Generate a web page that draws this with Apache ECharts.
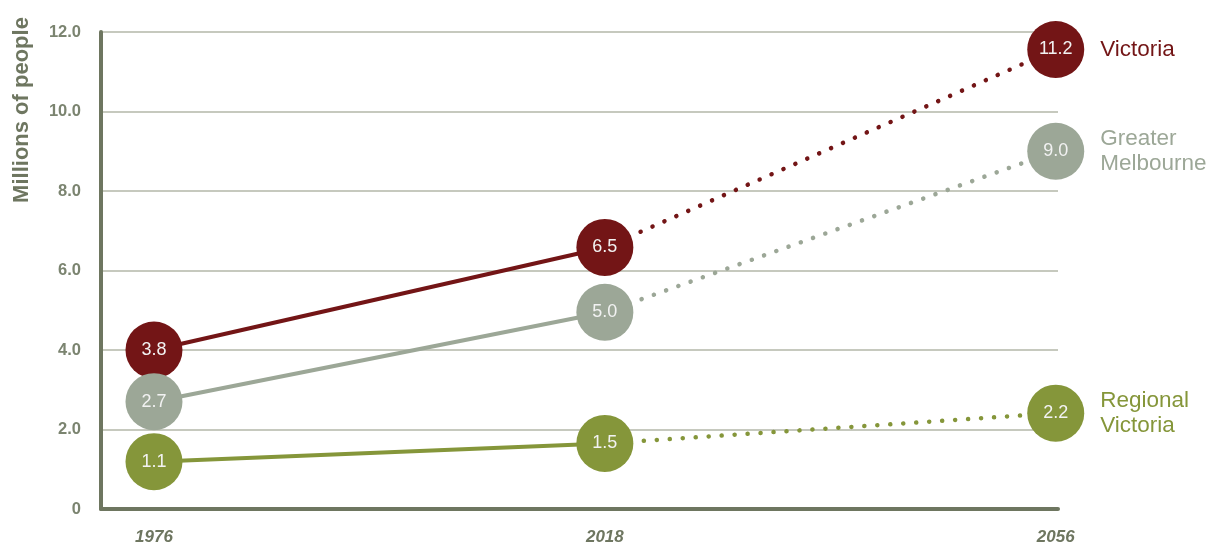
<!DOCTYPE html>
<html><head><meta charset="utf-8">
<script src="https://cdn.jsdelivr.net/npm/echarts@6/dist/echarts.min.js"></script>
<style>html,body{margin:0;padding:0;background:#fff}#c{width:1221px;height:547px}</style>
</head><body><div id="c"></div>
<script>
const years = ['1976', '2018', '2056'];
const yTicks = [0, 2, 4, 6, 8, 10, 12];
const seriesNames = ['Victoria', 'Greater\nMelbourne', 'Regional\nVictoria'];
// circle positions
const victoria = [4.0, 6.58, 11.56];
const melbourne = [2.7, 4.95, 9.0];
const regional = [1.19, 1.65, 2.41];
// printed labels on circles
const victoriaLabels = ['3.8', '6.5', '11.2'];
const melbourneLabels = ['2.7', '5.0', '9.0'];
const regionalLabels = ['1.1', '1.5', '2.2'];
const colors = ['#731516', '#9ca797', '#85963a'];

const font = 'Liberation Sans, Arial, sans-serif';
const groups = [
  {vals: victoria, labels: victoriaLabels},
  {vals: melbourne, labels: melbourneLabels},
  {vals: regional, labels: regionalLabels}
];
const series = [];
groups.forEach((g, i) => {
  const c = colors[i];
  series.push({
    type: 'line', data: [[0, g.vals[0]], [1, g.vals[1]]], symbol: 'none', z: 2,
    lineStyle: {color: c, width: 4}, silent: true
  });
  series.push({
    type: 'line', data: [[1, g.vals[1]], [2, g.vals[2]]], symbol: 'none', z: 2,
    lineStyle: {color: c, width: 4.5, type: [0.1, 12.9], cap: 'round'}, silent: true
  });
  series.push({
    type: 'scatter', z: 5, symbolSize: 57,
    data: g.vals.map((v, k) => ({value: [k, v], label: {formatter: g.labels[k]}})),
    itemStyle: {color: c, opacity: 1},
    label: {show: true, position: 'inside', color: '#f2f2f2', fontSize: 18, fontFamily: font}
  });
  series.push({
    type: 'scatter', z: 4, symbolSize: 57,
    data: [[2, g.vals[2]]],
    itemStyle: {color: c, opacity: 0},
    labelLayout: {hideOverlap: false},
    label: {show: true, position: 'right', distance: 16, formatter: seriesNames[i],
      color: c, opacity: 1, fontSize: 22.5, lineHeight: 25, fontFamily: font, align: 'left'}
  });
});

const chart = echarts.init(document.getElementById('c'));
chart.setOption({
  animation: false,
  grid: {left: 101, right: 163, top: 32, bottom: 38, containLabel: false},
  xAxis: {
    type: 'value', min: -0.1175, max: 2.005,
    splitLine: {show: false},
    axisLine: {show: true, onZero: false, lineStyle: {color: '#6e7660', width: 4}},
    axisTick: {show: false},
    axisLabel: {
      customValues: [0, 1, 2],
      formatter: v => years[Math.round(v)],
      color: '#6e7660', fontSize: 17, fontStyle: 'italic', fontWeight: 'bold',
      fontFamily: font, margin: 20
    }
  },
  yAxis: {
    type: 'value', min: 0, max: 12, interval: 2,
    axisLine: {show: true, onZero: false, lineStyle: {color: '#6e7660', width: 4}},
    axisTick: {show: false},
    splitLine: {show: true, lineStyle: {color: '#b3b7a9', width: 1.5}},
    axisLabel: {
      customValues: yTicks,
      formatter: v => v === 0 ? '0' : v.toFixed(1),
      color: '#7b8470', fontSize: 16.5, fontWeight: 'bold', fontFamily: font, margin: 20
    }
  },
  graphic: [{
    type: 'text', x: 22, y: 110, rotation: Math.PI / 2,
    style: {text: 'Millions of people', fill: '#6e7660', fontSize: 22, fontWeight: 'bold',
      fontFamily: font, align: 'center', verticalAlign: 'middle'}
  }],
  series: series
});
</script></body></html>
